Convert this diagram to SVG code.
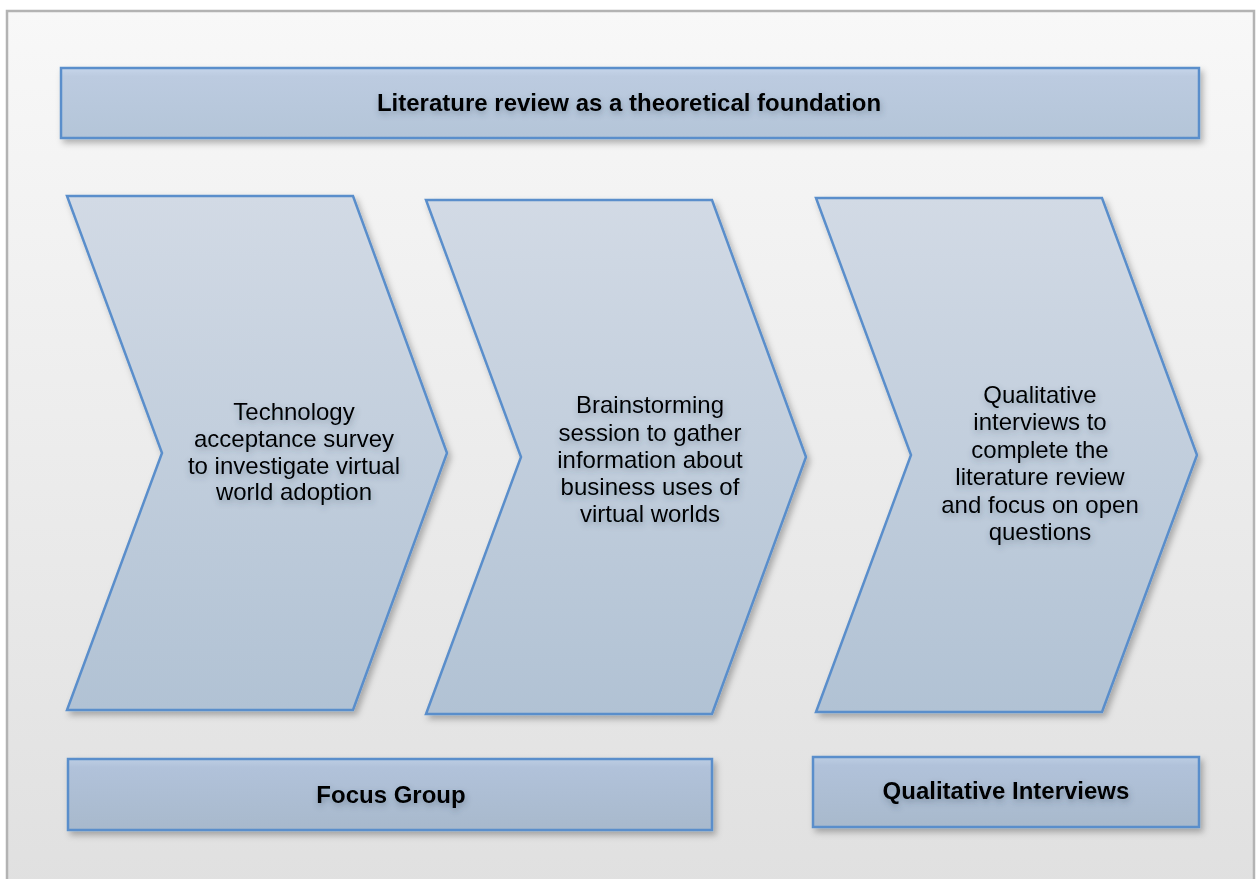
<svg xmlns="http://www.w3.org/2000/svg" width="1258" height="879" viewBox="0 0 1258 879">
  <defs>
    <linearGradient id="bg" x1="0" y1="0" x2="0" y2="1">
      <stop offset="0" stop-color="#f8f8f8"/>
      <stop offset="1" stop-color="#e0e0e0"/>
    </linearGradient>
    <linearGradient id="chevFill" x1="0" y1="0" x2="0" y2="1">
      <stop offset="0" stop-color="#d2dae5"/>
      <stop offset="1" stop-color="#b1c2d4"/>
    </linearGradient>
    <linearGradient id="barFill" x1="0" y1="0" x2="0" y2="1">
      <stop offset="0" stop-color="#c6d5ea"/>
      <stop offset="0.12" stop-color="#bccbe0"/>
      <stop offset="1" stop-color="#b4c5d8"/>
    </linearGradient>
    <linearGradient id="labelFill" x1="0" y1="0" x2="0" y2="1">
      <stop offset="0" stop-color="#bccde3"/>
      <stop offset="0.12" stop-color="#b1c2da"/>
      <stop offset="1" stop-color="#a8b9cc"/>
    </linearGradient>
    <filter id="shadow" x="-10%" y="-10%" width="125%" height="130%">
      <feDropShadow dx="3" dy="4" stdDeviation="3" flood-color="#000" flood-opacity="0.28"/>
    </filter>
    <filter id="textShadow" x="-10%" y="-30%" width="120%" height="180%">
      <feDropShadow dx="1" dy="3" stdDeviation="3" flood-color="#3a4a5c" flood-opacity="0.4"/>
    </filter>
    <style>
      .shape { stroke: #5a8ecb; stroke-width: 2.5; stroke-linejoin: miter; filter: url(#shadow); }
      .chev { fill: url(#chevFill); }
      .bar { fill: url(#barFill); }
      .label { fill: url(#labelFill); }
      .body { font-family: "Liberation Sans", Arial, sans-serif; font-size: 24px; fill: #000; text-anchor: middle; filter: url(#textShadow); }
      .head { font-family: "Liberation Sans", Arial, sans-serif; font-size: 24px; font-weight: bold; fill: #000; text-anchor: middle; filter: url(#textShadow); }
    </style>
  </defs>

  <!-- page background and frame -->
  <rect x="0" y="0" width="1258" height="879" fill="#ffffff"/>
  <rect x="7" y="11" width="1247" height="880" fill="url(#bg)" stroke="#b3b3b3" stroke-width="2.5"/>

  <g id="literature-review">
    <rect class="shape bar" x="61" y="68" width="1138" height="70"/>
    <text class="head" x="629" y="111">Literature review as a theoretical foundation</text>
  </g>

  <g id="step-survey">
    <path class="shape chev" d="M67,196 L353,196 L447,453 L353,710 L67,710 L162,453 Z"/>
    <text class="body"><tspan x="294" y="420">Technology</tspan><tspan x="294" y="447">acceptance survey</tspan><tspan x="294" y="474">to investigate virtual</tspan><tspan x="294" y="500">world adoption</tspan></text>
  </g>

  <g id="step-brainstorming">
    <path class="shape chev" d="M426,200 L712,200 L806,457 L712,714 L426,714 L521,457 Z"/>
    <text class="body"><tspan x="650" y="413">Brainstorming</tspan><tspan x="650" y="441">session to gather</tspan><tspan x="650" y="468">information about</tspan><tspan x="650" y="495">business uses of</tspan><tspan x="650" y="522">virtual worlds</tspan></text>
  </g>

  <g id="step-interviews">
    <path class="shape chev" d="M816,198 L1102,198 L1197,455 L1102,712 L816,712 L911,455 Z"/>
    <text class="body"><tspan x="1040" y="403">Qualitative</tspan><tspan x="1040" y="430">interviews to</tspan><tspan x="1040" y="458">complete the</tspan><tspan x="1040" y="485">literature review</tspan><tspan x="1040" y="513">and focus on open</tspan><tspan x="1040" y="540">questions</tspan></text>
  </g>

  <g id="focus-group">
    <rect class="shape label" x="68" y="759" width="644" height="71"/>
    <text class="head" x="391" y="803">Focus Group</text>
  </g>

  <g id="qualitative-interviews">
    <rect class="shape label" x="813" y="757" width="386" height="70"/>
    <text class="head" x="1006" y="799">Qualitative Interviews</text>
  </g>

  <!-- no connectors: the steps are chevrons placed side by side -->
  <g id="connectors"/>
</svg>
